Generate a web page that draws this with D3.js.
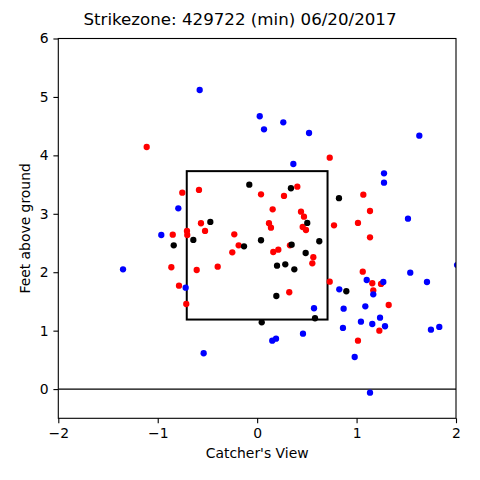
<!DOCTYPE html>
<html><head><meta charset="utf-8">
<script src="https://cdn.jsdelivr.net/npm/d3@7"></script>
<style>body{margin:0;background:#fff}svg{display:block}text{font-family:"DejaVu Sans",sans-serif;fill:#000}</style>
</head><body>
<script>
const title = "Strikezone: 429722 (min) 06/20/2017";
const xLabel = "Catcher's View";
const yLabel = "Feet above ground";
const xTicks = [-2, -1, 0, 1, 2];
const yTicks = [0, 1, 2, 3, 4, 5, 6];
const zone = {left: -0.708, right: 0.708, bottom: 1.19, top: 3.73};

const redX = [-1.111,0.730,-0.753,-0.585,0.039,0.404,0.270,1.068,0.156,0.441,0.471,1.135,-0.565,0.119,0.139,0.458,0.491,0.773,1.014,1.135,-0.706,-0.703,-0.524,-0.849,-0.230,-0.186,-0.250,0.330,0.162,0.213,0.565,0.555,-0.863,-0.608,-0.397,-0.786,-0.713,1.062,1.158,1.246,0.730,1.168,0.323,1.323,1.229,1.014];
const redY = [4.143,3.960,3.361,3.408,3.334,3.464,3.305,3.327,3.077,3.036,2.951,3.048,2.838,2.838,2.762,2.774,2.723,2.803,2.843,2.598,2.706,2.637,2.706,2.642,2.649,2.461,2.341,2.461,2.346,2.386,2.256,2.153,2.085,2.038,2.095,1.770,1.456,2.009,1.811,1.799,1.838,1.691,1.657,1.439,0.999,0.828];

const blackX = [-0.079,0.340,0.823,-0.471,0.504,-0.642,-0.839,-0.132,0.039,0.347,0.625,0.488,0.200,0.283,0.374,0.897,0.193,0.582,0.046];
const blackY = [3.498,3.437,3.267,2.860,2.843,2.552,2.461,2.444,2.547,2.471,2.530,2.329,2.112,2.136,2.050,1.674,1.593,1.212,1.143];

const blueX = [-0.578,0.026,0.069,0.263,0.522,1.631,0.364,1.276,1.276,1.517,-0.793,-0.964,-1.349,-0.719,-0.538,2.010,1.540,1.102,1.269,1.708,0.826,1.168,0.572,0.870,1.088,1.236,1.044,1.158,1.286,1.748,1.832,0.863,0.461,0.152,0.190,0.981,1.135];
const blueY = [5.119,4.669,4.446,4.566,4.383,4.337,3.852,3.693,3.532,2.916,3.094,2.637,2.050,1.735,0.613,2.124,1.992,1.867,1.833,1.833,1.708,1.622,1.383,1.376,1.417,1.222,1.154,1.114,1.075,1.017,1.063,1.046,0.948,0.828,0.863,0.549,-0.062];

const W = 480, H = 480;
const L = 58.3, R = 456, T = 38.5, B = 418.3;
const x = d3.scaleLinear().domain([-2, 2]).range([L, R]);
const y = d3.scaleLinear().domain([-0.5, 6]).range([B, T]);

const svg = d3.select("body").append("svg").attr("width", W).attr("height", H);
svg.append("defs").append("clipPath").attr("id", "clip")
  .append("rect").attr("x", L).attr("y", T).attr("width", R - L).attr("height", B - T);

const plot = svg.append("g").attr("clip-path", "url(#clip)");

// zero line
plot.append("line").attr("x1", x(-2)).attr("x2", x(2)).attr("y1", y(0)).attr("y2", y(0))
  .attr("stroke", "#000").attr("stroke-width", 1.1);

// strike zone
plot.append("rect")
  .attr("x", x(zone.left)).attr("y", y(zone.top))
  .attr("width", x(zone.right) - x(zone.left)).attr("height", y(zone.bottom) - y(zone.top))
  .attr("fill", "none").attr("stroke", "#000").attr("stroke-width", 2);

function drawSeries(xs, ys, color) {
  plot.append("g").selectAll("circle").data(xs.map((v, i) => [v, ys[i]])).join("circle")
    .attr("cx", d => x(d[0])).attr("cy", d => y(d[1])).attr("r", 3.15).attr("fill", color);
}
drawSeries(redX, redY, "#ff0000");
drawSeries(blackX, blackY, "#000000");
drawSeries(blueX, blueY, "#0000ff");

// axes frame
svg.append("rect").attr("x", L).attr("y", T).attr("width", R - L).attr("height", B - T)
  .attr("fill", "none").attr("stroke", "#000").attr("stroke-width", 1.1);

const fmt = d => d < 0 ? "\u2212" + Math.abs(d) : String(d);
const xAxis = d3.axisBottom(x).tickValues(xTicks).tickFormat(fmt).tickSize(4.9).tickPadding(4.9);
const gx = svg.append("g").attr("transform", `translate(0,${B})`).call(xAxis);
const yAxis = d3.axisLeft(y).tickValues(yTicks).tickFormat(fmt).tickSize(4.9).tickPadding(4.9);
const gy = svg.append("g").attr("transform", `translate(${L},0)`).call(yAxis);
[gx, gy].forEach(g => {
  g.select(".domain").remove();
  g.selectAll("line").attr("stroke", "#000").attr("stroke-width", 1.1);
  g.selectAll("text").attr("font-family", '"DejaVu Sans", sans-serif').attr("font-size", 13.9).attr("fill", "#000");
});

svg.append("text").attr("x", 240).attr("y", 24.5).attr("text-anchor", "middle")
  .attr("font-size", 16.67).text(title);
svg.append("text").attr("x", (L + R) / 2).attr("y", 458.3).attr("text-anchor", "middle")
  .attr("font-size", 13.9).text(xLabel);
svg.append("text").attr("transform", `translate(30,${(T + B) / 2}) rotate(-90)`)
  .attr("text-anchor", "middle").attr("font-size", 13.9).text(yLabel);
</script>
</body></html>
